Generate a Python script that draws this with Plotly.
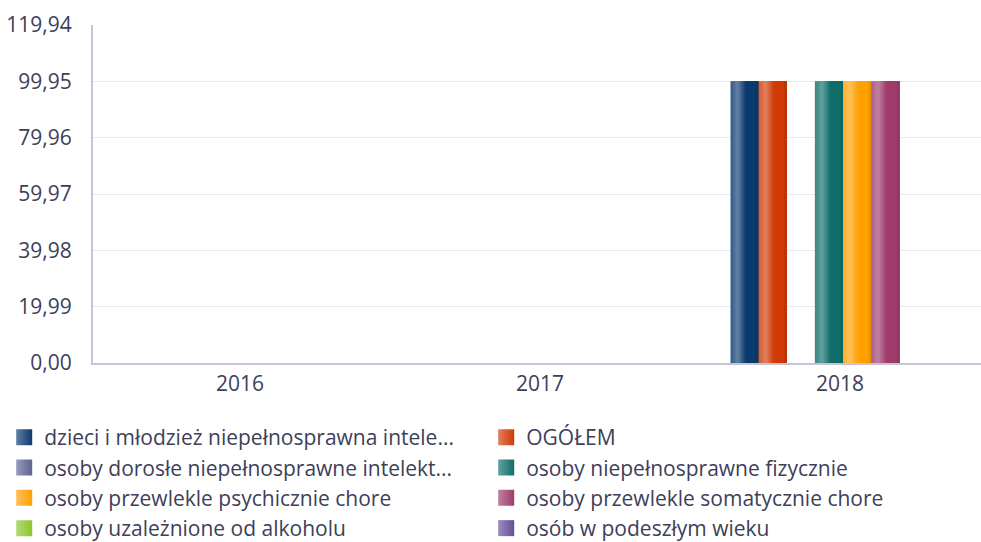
import plotly.graph_objects as go

# Categories and series
years = ["2016", "2017", "2018"]
series_names = [
    "dzieci i młodzież niepełnosprawna intele...",
    "OGÓŁEM",
    "osoby dorosłe niepełnosprawne intelekt...",
    "osoby niepełnosprawne fizycznie",
    "osoby przewlekle psychicznie chore",
    "osoby przewlekle somatycznie chore",
    "osoby uzależnione od alkoholu",
    "osób w podeszłym wieku",
]
dzieci = [None, None, 100]
ogolem = [None, None, 100]
dorosle = [None, None, None]
fizycznie = [None, None, 100]
psychicznie = [None, None, 100]
somatycznie = [None, None, 100]
alkohol = [None, None, None]
wiek = [None, None, None]
series_values = [dzieci, ogolem, dorosle, fizycznie, psychicznie, somatycznie, alkohol, wiek]

# Axis ticks
y_tick_vals = [0, 19.99, 39.98, 59.97, 79.96, 99.95, 119.94]
y_tick_text = ["0,00", "19,99", "39,98", "59,97", "79,96", "99,95", "119,94"]

base_colors = ["#0b3a6e", "#cf3a05", "#5f6393", "#0f6e6a", "#ffa000", "#9e3c6c", "#8cc62c", "#6a4c9c"]
TEXT = "#3d4059"


def hex_to_rgb(h):
    h = h.lstrip("#")
    return tuple(int(h[i:i + 2], 16) for i in (0, 2, 4))


def mix(c, target, t):
    return tuple(round(a + (b - a) * t) for a, b in zip(c, target))


def shade(c, f):
    # f > 0 lightens towards white, f < 0 darkens towards black
    if f >= 0:
        return mix(c, (255, 255, 255), f)
    return mix(c, (0, 0, 0), -f)


def rgb_str(c):
    return "rgb(%d,%d,%d)" % c


def gradient_factor(u):
    # horizontal sheen profile across a bar (u from 0 at left to 1 at right)
    stops = [(0.0, 0.16), (0.25, 0.36), (0.55, 0.0), (0.88, 0.0), (1.0, -0.12)]
    for (u0, f0), (u1, f1) in zip(stops, stops[1:]):
        if u0 <= u <= u1:
            return f0 + (f1 - f0) * (u - u0) / (u1 - u0)
    return 0.0


n_series = len(series_names)
group_width = 0.75
group_shift = 0.01
slot = group_width / n_series
strips = 16
strip_w = slot / strips

fig = go.Figure()
for i, (name, vals, col) in enumerate(zip(series_names, series_values, base_colors)):
    rgb = hex_to_rgb(col)
    start = -group_width / 2 + group_shift + i * slot
    # layered strips: each one runs from its own left edge to the bar's right edge
    for k in range(strips):
        u = (k + 0.5) / strips
        fig.add_trace(go.Bar(
            x=years, y=vals,
            offset=start + k * strip_w, width=slot - k * strip_w,
            marker=dict(color=rgb_str(shade(rgb, gradient_factor(u))), line=dict(width=0)),
            name=name, legendgroup=name, showlegend=False,
            hoverinfo="skip" if k else None,
        ))
    # legend entry
    fig.add_trace(go.Scatter(
        x=[None], y=[None], mode="markers", name=name, legendgroup=name,
        marker=dict(symbol="square", size=20, color=rgb_str(shade(rgb, 0.35)),
                    gradient=dict(type="horizontal", color=rgb_str(rgb)),
                    line=dict(width=0)),
        showlegend=True,
    ))

fig.update_layout(
    width=981, height=542,
    barmode="overlay",
    paper_bgcolor="white", plot_bgcolor="white",
    margin=dict(l=93, r=0, t=25, b=179, autoexpand=False),
    font=dict(family="Open Sans", size=21, color=TEXT),
    showlegend=True,
    legend=dict(
        orientation="h", x=-0.1, xanchor="left", y=-0.16, yanchor="top",
        entrywidth=437, entrywidthmode="pixels",
        font=dict(family="Open Sans", size=21, color=TEXT),
        traceorder="normal", itemsizing="trace",
    ),
    xaxis=dict(
        type="category", showgrid=False, range=[-0.49, 2.47],
        showline=True, linecolor="#c3c5d6", linewidth=2,
        ticks="", ticklabelstandoff=1, tickfont=dict(size=21, color=TEXT),
    ),
    yaxis=dict(
        range=[0, 119.94], tickvals=y_tick_vals, ticktext=y_tick_text,
        showgrid=True, gridcolor="#e8e8f0", gridwidth=1,
        showline=True, linecolor="#c3c5d6", linewidth=2,
        zeroline=False, ticks="", ticklabelstandoff=15,
        tickfont=dict(size=21, color=TEXT),
    ),
)

fig.write_html("out.html")
